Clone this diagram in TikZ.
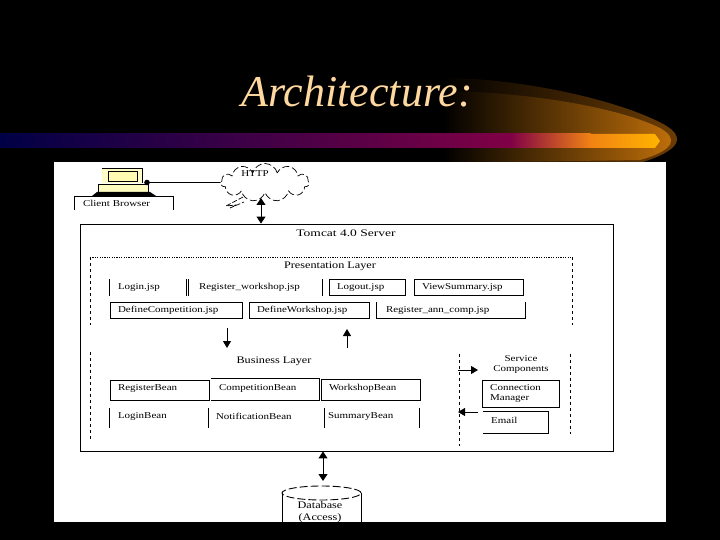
\documentclass[tikz,border=0pt]{standalone}
\usepackage{fontspec}
\setmainfont{Liberation Serif}
\newfontfamily\labfont[FakeStretch=1.22]{Liberation Serif}
\newfontfamily\widefont[FakeStretch=1.35]{Liberation Serif}
\usetikzlibrary{shapes.symbols,shapes.geometric,arrows.meta}
\definecolor{titlecol}{HTML}{FFD8A0}
\tikzset{
 lab/.style={font=\labfont\fontsize{9}{10}\selectfont,text=black,inner sep=0pt,align=center},
 lablg/.style={font=\labfont\fontsize{10}{11}\selectfont,text=black,inner sep=0pt,align=center},
 boxline/.style={draw=black,line width=0.9pt},
 openbox/.style={font=\labfont\fontsize{9}{10}\selectfont,text=black,inner xsep=8pt,inner ysep=0pt,text width={#1-16pt},align=left,minimum height=16pt},
 box/.style={openbox=#1,boxline},
 upper/.style={text depth=4pt},
 dbl/.style={line width=1pt,{Triangle[length=7pt,width=9pt]}-{Triangle[length=7pt,width=9pt]}},
 sgl/.style={line width=1pt,-{Triangle[length=7pt,width=8pt]}},
 dashline/.style={line width=0.8pt,dash pattern=on 3pt off 3pt},
 dotline/.style={line width=0.8pt,dash pattern=on 1.2pt off 1.2pt},
}
\begin{document}
\begin{tikzpicture}[x=1pt,y=-1pt]
\useasboundingbox (0,0) rectangle (720,540);
\fill[black] (0,0) rectangle (720,540);
% glow
\begin{scope}
 \clip (443,78) .. controls (520,78) and (620,100) .. (665,125) .. controls (685,137) and (682,150) .. (640,163) -- (443,163) -- cycle;
 \shade[left color=black,right color={rgb,255:red,110;green,62;blue,5}] (443,70) rectangle (680,170);
\end{scope}
\begin{scope}
 \clip (443,91) .. controls (530,92) and (620,108) .. (660,128) .. controls (678,138) and (676,150) .. (640,160) -- (443,163) -- cycle;
 \shade[left color=black,right color={rgb,255:red,190;green,110;blue,10}] (443,70) rectangle (672,170);
\end{scope}
% title
\node[font=\fontsize{44}{48}\selectfont\itshape,text=titlecol,inner sep=0pt] (title) at (357,92) {Architecture:};
% bar
\shade[left color={rgb,255:red,0;green,0;blue,70},right color={rgb,255:red,128;green,0;blue,70}] (0,134) rectangle (510,148);
\shade[left color={rgb,255:red,128;green,0;blue,70},right color={rgb,255:red,240;green,130;blue,20}] (510,134) rectangle (590.5,148);
\shade[left color={rgb,255:red,240;green,130;blue,20},right color={rgb,255:red,255;green,180;blue,0}] (590,134) -- (655,134) -- (660,141) -- (655,148) -- (590,148) -- cycle;
% white sheet
\fill[white] (54,162) rectangle (666,522);

% client
\fill[yellow!22] (102,168) rectangle (142,183);
\draw[boxline] (102,168) -- (142,168) -- (142,183);
\draw[boxline,fill=yellow!30] (108,171) rectangle (137,181);
\draw[boxline,fill=yellow!25] (98,184) rectangle (148,192);
\fill[black] (97,192) -- (150,192) -- (156,196) -- (92,196) -- cycle;
\node[openbox=98pt,minimum height=13pt] (client) at (124,203) {Client Browser};
\draw[boxline] (client.south west) -- (client.north west) -- (client.north east) -- (client.south east);
\coordinate (jack) at (147,182.5);
\fill[black] (jack) circle (2.8pt);

% cloud
\node[cloud,cloud puffs=11,aspect=2.4,draw=black,line width=0.7pt,dash pattern=on 7pt off 3pt,minimum width=88pt,minimum height=38pt,inner sep=0pt] (http) at (265,182.5) {};
\node[lab] (httptxt) at (255,174) {HTTP};
\draw[line width=0.7pt,dash pattern=on 5pt off 2pt] (243,197) -- (226,206) -- (236,205) -- (230,208) -- (244,202);
\draw[boxline] (jack) -- (http.west);

% server
\node[boxline,minimum width=533pt,minimum height=227pt,inner sep=0pt] (server) at (346.5,337.5) {};
\node[font=\widefont\fontsize{10}{11}\selectfont,text=black,inner sep=0pt] (servertxt) at (346,233) {Tomcat 4.0 Server};
\coordinate (srvtop) at (261,198);
\draw[dbl] (srvtop) -- (server.north -| srvtop);

% presentation layer
\coordinate (pnw) at (90,257);
\coordinate (pne) at (572,257);
\coordinate (psw) at (90,325);
\coordinate (pse) at (572,325);
\draw[dotline] (pnw) -- (pne);
\draw[dashline] (pnw) -- (psw);
\draw[dashline] (pne) -- (pse);
\node[lablg] (ptxt) at (330,266) {Presentation Layer};

\node[openbox=76pt] (login) at (148,287.5) {Login.jsp};
\draw[boxline] (login.north west) -- (login.south west) (login.north east) -- (login.south east);
\node[openbox=133pt,inner xsep=10pt,text width=113pt] (regw) at (255.5,287.5) {Register\_workshop.jsp};
\draw[boxline] (regw.north west) -- (regw.south west) (regw.north east) -- (regw.south east);
\node[box=76pt] (logout) at (367,287.5) {Logout.jsp};
\node[box=109pt] (view) at (468.5,287.5) {ViewSummary.jsp};
\node[box=132pt] (defc) at (176,310) {DefineCompetition.jsp};
\node[box=120pt] (defw) at (309,310) {DefineWorkshop.jsp};
\node[openbox=148pt,inner xsep=9pt,text width=130pt] (rega) at (451,310.5) {Register\_ann\_comp.jsp};
\draw[boxline] (rega.north west) -- (rega.south west) -- (rega.south east) -- (rega.north east);

% business layer
\coordinate (bnw) at (90,352);
\coordinate (bsw) at (90,440);
\draw[dashline] (bnw) -- (bsw);
\node[lablg] (btxt) at (274,361) {Business Layer};
\node[box=99pt,minimum height=20pt,upper] (rb) at (159.5,390) {RegisterBean};
\node[openbox=108pt,minimum height=21pt,upper] (cb) at (265,389.5) {CompetitionBean};
\draw[boxline] (cb.north west) -- (cb.north east) -- (cb.south east) -- (cb.south west);
\node[box=99pt,minimum height=21pt,upper] (wb) at (370.5,389.5) {WorkshopBean};
\node[openbox=98pt,minimum height=20pt,upper] (lb) at (159,418) {LoginBean};
\draw[boxline] (lb.north west) -- (lb.south west) (lb.north east) -- (lb.south east);
\node[openbox=116pt,minimum height=20pt,upper] (nb) at (266,418) {NotificationBean};
\draw[boxline] (nb.north east) -- (nb.south east);
\node[openbox=95pt,minimum height=20pt,inner xsep=4pt,text width=87pt,upper] (sb) at (371.5,418) {SummaryBean};
\draw[boxline] (sb.north east) -- (sb.south east);

% layer arrows
\coordinate (d1) at (227,328);
\coordinate (d2) at (227,348);
\coordinate (u1) at (347,348);
\coordinate (u2) at (347,329);
\draw[sgl] (d1) -- (d2);
\draw[sgl] (u1) -- (u2);

% service components
\coordinate (sa) at (459,354);
\coordinate (sb2) at (459,446);
\coordinate (sc) at (570,354);
\coordinate (sd) at (570,434);
\draw[dashline] (sa) -- (sb2);
\draw[dashline] (sc) -- (sd);
\node[lab] (stxt) at (521,364) {Service\\Components};
\node[boxline,minimum width=77pt,minimum height=27pt,inner sep=0pt] (cm) at (520.5,393.5) {};
\node[lab,align=left,anchor=west] (cmtxt) at (490,393.5) {Connection\\Manager};
\node[minimum width=65pt,minimum height=21pt,inner sep=0pt] (email) at (515.5,422.5) {};
\node[lab,anchor=west] (etxt) at (491,420) {Email};
\draw[boxline] (email.north west) -- (email.north east) -- (email.south east) -- (email.south west);
\coordinate (ra) at (458,370);
\coordinate (rb2) at (478,370);
\coordinate (la) at (478,412);
\coordinate (lb2) at (458,412);
\draw[sgl] (ra) -- (rb2);
\draw[sgl] (la) -- (lb2);

% database
\node[minimum width=79pt,minimum height=29pt,inner sep=0pt] (db) at (321.5,507.5) {};
\draw[boxline,dash pattern=on 8pt off 3pt] (321.5,493) ellipse (39.5pt and 7pt);
\draw[boxline] (282,493) -- (282,522) (361,493) -- (361,522);
\coordinate (dbtop) at (323,481);
\draw[dbl] (dbtop) -- (server.south -| dbtop);
\node[lablg] (dbtxt) at (320,512.5) {Database\\[1pt](Access)};
\end{tikzpicture}
\end{document}
